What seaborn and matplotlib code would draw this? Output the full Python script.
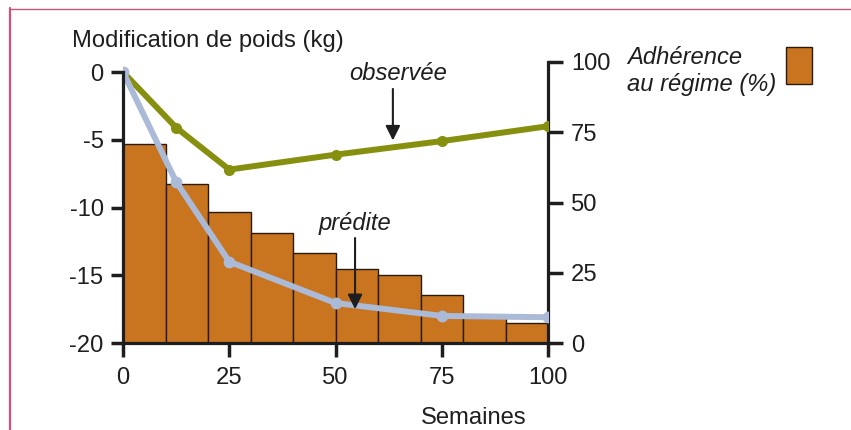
import matplotlib
matplotlib.use('Agg')
import matplotlib.pyplot as plt
import seaborn as sns
import pandas as pd
from matplotlib.lines import Line2D
from matplotlib.patches import Rectangle

# data
weeks = [0, 12.5, 25, 50, 75, 100]
observed = [0, -4.1, -7.2, -6.1, -5.1, -4.0]
predicted = [0, -8.1, -14.0, -17.05, -18.0, -18.1]

bar_centers = [5, 15, 25, 35, 45, 55, 65, 75, 85, 95]
adherence = [70.7, 56.5, 46.5, 39.0, 31.9, 26.4, 24.3, 17.2, 9.7, 7.0]

left_ticks = [0, -5, -10, -15, -20]
right_ticks = [0, 25, 50, 75, 100]
x_ticks = [0, 25, 50, 75, 100]

green = '#868f0e'
blue = '#aabad7'
orange = '#c9741f'
ink = '#1e1e1e'

sns.set_style('ticks')
plt.rcParams['font.family'] = ['Liberation Sans', 'DejaVu Sans']
plt.rcParams['axes.unicode_minus'] = False
fs = 17.1

fig = plt.figure(figsize=(8.51, 4.30), dpi=100)
ax = fig.add_axes([123 / 851, 1 - 343 / 430, (548 - 123) / 851, (343 - 62) / 430])
ax2 = ax.twinx()

# bars: adherence on the right axis
bars = pd.DataFrame({'week': bar_centers, 'adh': adherence})
sns.histplot(data=bars, x='week', weights='adh', binwidth=10, binrange=(0, 100),
             ax=ax2, color=orange, edgecolor='#2a1a0c', linewidth=1.0, alpha=1,
             legend=False)
ax2.set_ylim(0, 100)
ax2.set_yticks(right_ticks)
ax2.set_ylabel('')

# lines on the left axis, above the bars
ax.set_zorder(ax2.get_zorder() + 1)
ax.patch.set_visible(False)
sns.lineplot(x=weeks, y=observed, ax=ax, color=green, lw=4.3,
             marker='o', markersize=8, markeredgewidth=0)
sns.lineplot(x=weeks, y=predicted, ax=ax, color=blue, lw=4.3,
             marker='o', markersize=8.5, markeredgewidth=0)

ax.set_xlim(0, 100)
ax.set_ylim(-20, 0.74)
ax.set_xticks(x_ticks)
ax.set_yticks(left_ticks)
ax.set_xlabel('')

for a in (ax, ax2):
    for s in a.spines.values():
        s.set_visible(False)
ax.spines['left'].set_visible(True)
ax.spines['bottom'].set_visible(True)
ax2.spines['right'].set_visible(True)
ax.spines['left'].set_bounds(-20, 0)
for s in (ax.spines['left'], ax.spines['bottom'], ax2.spines['right']):
    s.set_linewidth(2.3)
    s.set_color(ink)

ax.tick_params(axis='y', length=9, width=2.5, pad=5.0, labelsize=fs,
               colors=ink, left=True)
ax.tick_params(axis='x', length=10, width=2.5, pad=7.5, labelsize=fs,
               colors=ink, bottom=True)
ax2.tick_params(axis='y', length=10.5, width=2.5, pad=6, labelsize=fs,
                colors=ink, right=True)
ax2.tick_params(axis='x', bottom=False, labelbottom=False)

# annotations
ax.text(64.7, -0.6, 'observée', style='italic', fontsize=fs, color=ink,
        ha='center', va='baseline')
ax.annotate('', xy=(63.5, -5.05), xytext=(63.5, -1.25),
            arrowprops=dict(arrowstyle='-|>', lw=1.5, color=ink,
                            mutation_scale=22, shrinkA=0, shrinkB=0))
ax.text(54.6, -11.66, 'prédite', style='italic', fontsize=fs, color=ink,
        ha='center', va='baseline')
ax.annotate('', xy=(54.6, -17.5), xytext=(54.6, -12.25),
            arrowprops=dict(arrowstyle='-|>', lw=1.5, color=ink,
                            mutation_scale=22, shrinkA=0, shrinkB=0))

fig.text(72 / 851, 1 - 46.7 / 430, 'Modification de poids (kg)', fontsize=fs,
         color=ink, ha='left', va='baseline')
fig.text(627 / 851, 1 - 90.7 / 430, 'Adhérence\nau régime (%)', style='italic',
         fontsize=fs, color=ink, ha='left', va='baseline', linespacing=1.2)
fig.text(421 / 851, 1 - 424.5 / 430, 'Semaines', fontsize=fs, color=ink,
         ha='left', va='baseline')

# legend swatch for the bars
fig.add_artist(Rectangle((786 / 851, 1 - 84.3 / 430), 26 / 851, 37.6 / 430,
                         transform=fig.transFigure, facecolor=orange,
                         edgecolor='#2a1a0c', linewidth=1.0))

# pink frame of the original page
fig.add_artist(Line2D([9.5 / 851, 1], [1 - 8.5 / 430, 1 - 8.5 / 430],
                      transform=fig.transFigure, color='#d4507c', lw=1.0))
fig.add_artist(Line2D([10 / 851, 10 / 851], [0, 1 - 8 / 430],
                      transform=fig.transFigure, color='#d4507c', lw=1.6))

fig.savefig('out.png', dpi=100)
